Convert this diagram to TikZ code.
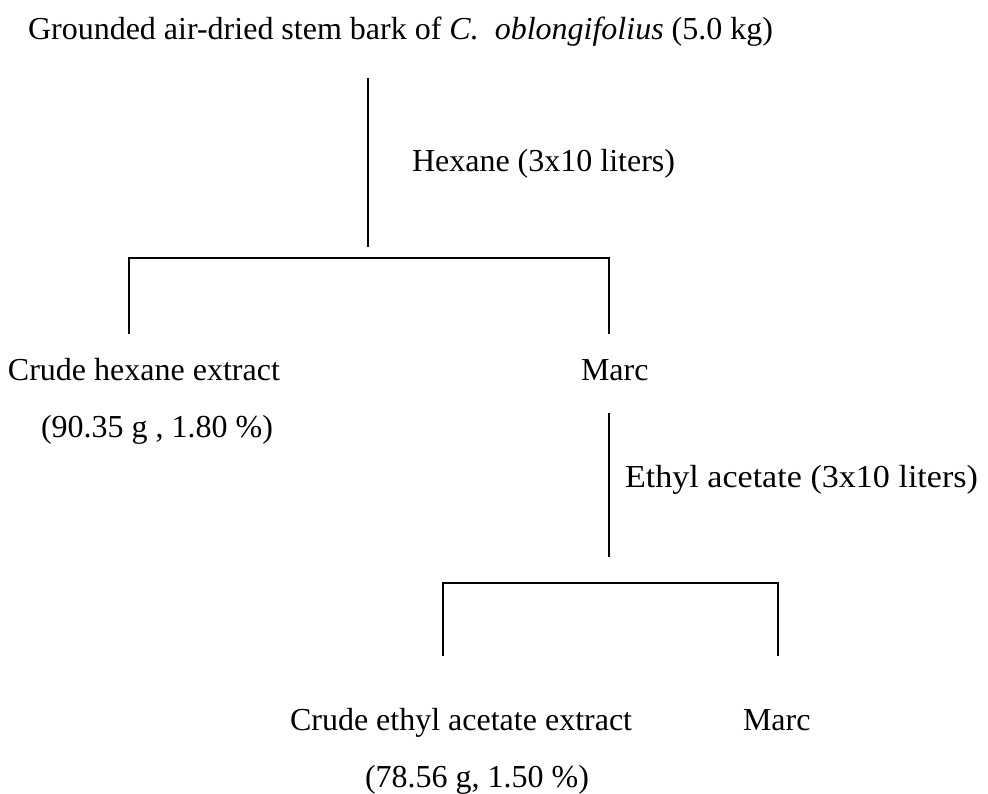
\documentclass[tikz,border=0pt]{standalone}
\usepackage{fontspec}
\setmainfont{Liberation Serif}
\begin{document}
\begin{tikzpicture}[x=1pt,y=-1pt,
  lbl/.style={anchor=base west,inner sep=0pt,outer sep=0pt,font=\fontsize{32}{38}\selectfont},
  conn/.style={line width=1.8pt,black}]
\useasboundingbox (0,0) rectangle (988,794);
% texts
\node[lbl] (src) at (28,40) {Grounded air-dried stem bark of \textit{C.\ \ oblongifolius} (5.0 kg)};
\node[lbl] (hex) at (412,172) {Hexane (3x10 liters)};
\node[lbl] (chx) at (8,380) {Crude hexane extract};
\node[lbl] (chxv) at (41,437) {(90.35 g , 1.80 \%)};
\node[lbl] (marc1) at (581,380) {Marc};
\node[lbl,xscale=1.065] (eth) at (625,487) {Ethyl acetate (3x10 liters)};
\node[lbl] (cea) at (290,730) {Crude ethyl acetate extract};
\node[lbl] (ceav) at (365,787) {(78.56 g, 1.50 \%)};
\node[lbl] (marc2) at (743,730) {Marc};
% junction coordinates
\coordinate (a1) at (368,78);
\coordinate (a2) at (368,247);
\coordinate (b1) at (129,258);
\coordinate (b2) at (609,258);
\coordinate (b1e) at (129,334);
\coordinate (b2e) at (609,334);
\coordinate (c1) at (609,413);
\coordinate (c2) at (609,557);
\coordinate (d1) at (443,583);
\coordinate (d2) at (778,583);
\coordinate (d1e) at (443,656);
\coordinate (d2e) at (778,656);
% connectors
\draw[conn] (a1) -- (a2);
\draw[conn] (b1e) -- (b1) -- (b2) -- (b2e);
\draw[conn] (c1) -- (c2);
\draw[conn] (d1e) -- (d1) -- (d2) -- (d2e);
\end{tikzpicture}
\end{document}
